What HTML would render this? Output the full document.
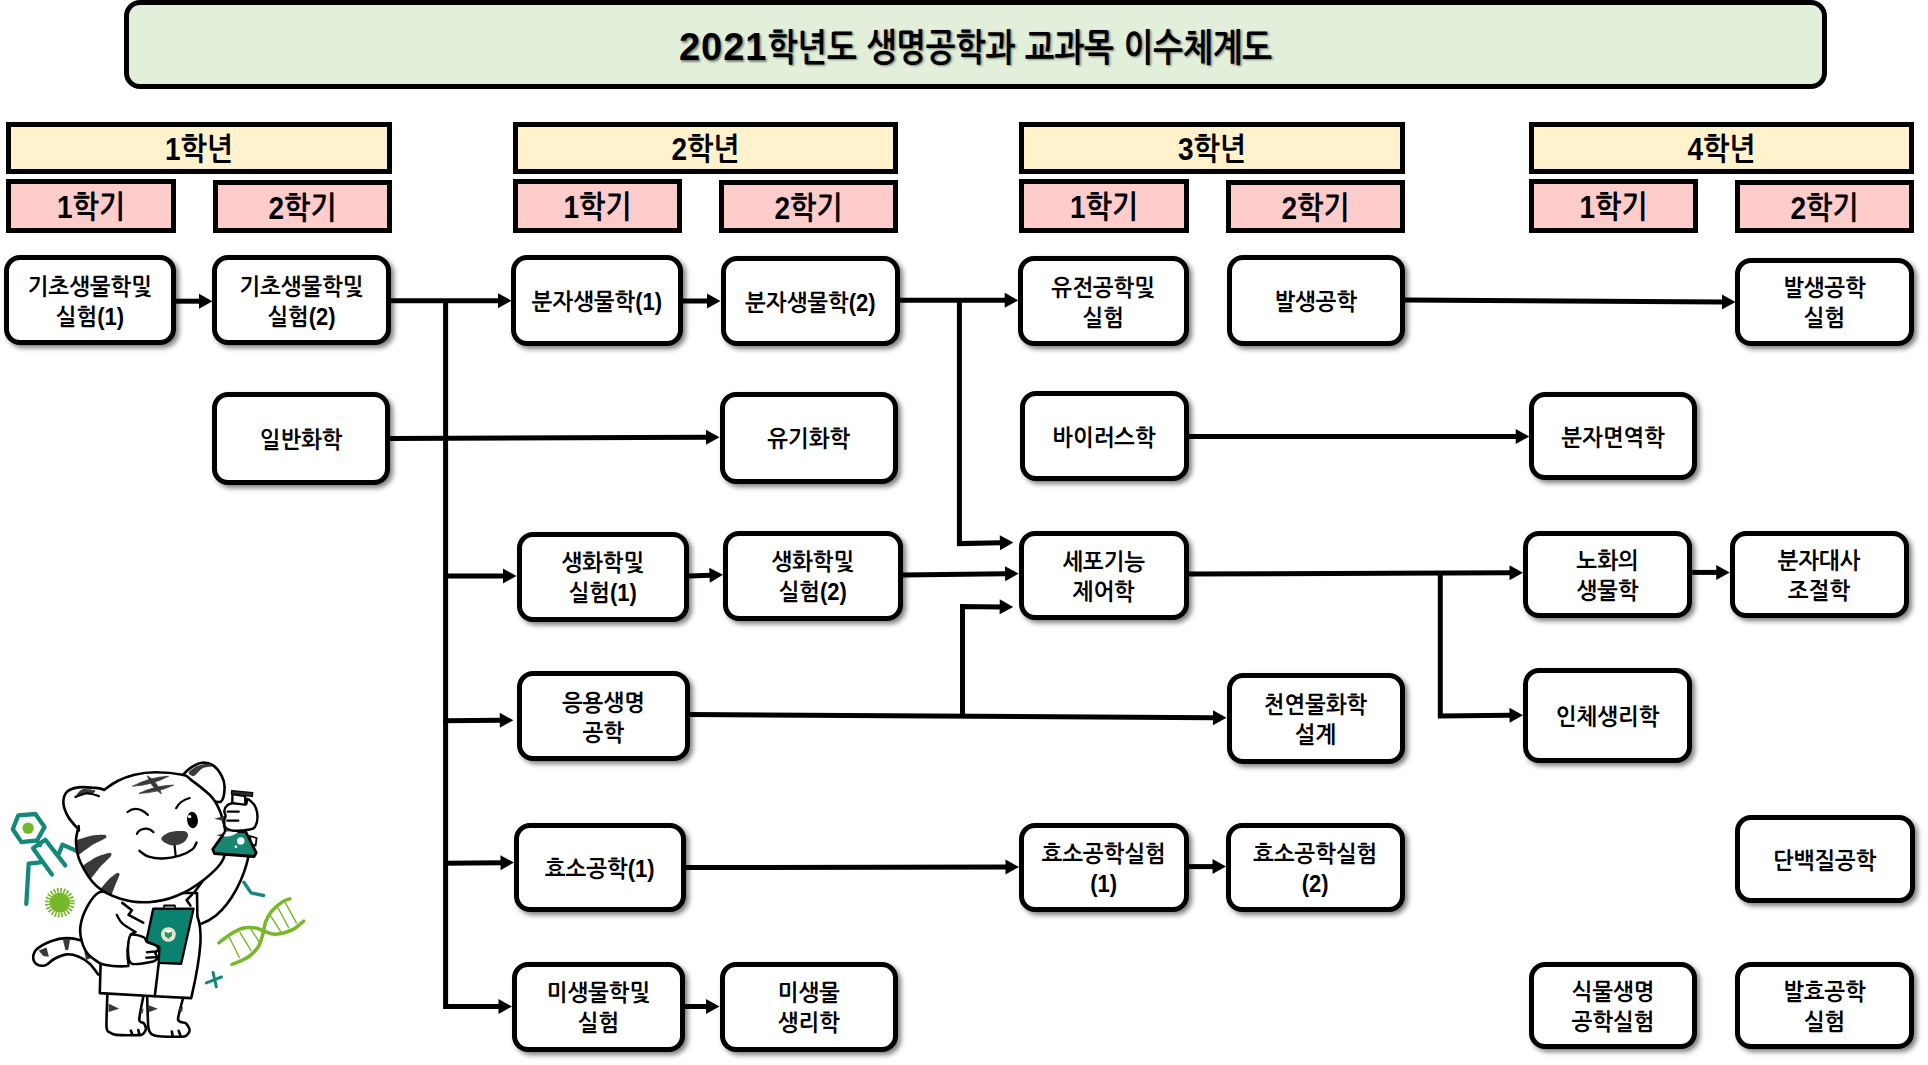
<!DOCTYPE html>
<html lang="ko">
<head>
<meta charset="utf-8">
<title>2021학년도 생명공학과 교과목 이수체계도</title>
<style>
html,body{margin:0;padding:0;background:#fff;}
body{width:1928px;height:1065px;position:relative;overflow:hidden;
 font-family:"Liberation Sans","NanumGothic",sans-serif;color:#000;}
.b{position:absolute;box-sizing:border-box;border:5px solid #000;display:flex;
 flex-direction:column;align-items:center;justify-content:center;text-align:center;}
.title{background:#E2EFDA;border-radius:16px;font-size:31.6px;font-weight:bold;
 text-shadow:1.5px 1.5px 2px rgba(0,0,0,.45);white-space:nowrap;}
.title .t{display:block;transform:translateY(3px);word-spacing:1px;}
.title .d{display:inline-block;font-size:38px;letter-spacing:1px;vertical-align:baseline;}
.title .h{display:inline-block;transform:scaleY(1.2);transform-origin:50% 70%;}
.y{background:#FFF2CC;font-size:28px;font-weight:bold;}
.s{background:#FFCCCC;font-size:28px;font-weight:bold;}
.y span,.s span{display:block;transform:translateY(1.5px) scaleY(1.13);}
.c{background:#fff;border-radius:16px;font-size:22px;font-weight:bold;line-height:30px;
 box-shadow:3px 3px 5px rgba(0,0,0,.5);padding-top:5px;}
.c span{display:block;transform:scaleY(1.06);}
.c.two{padding-top:5px;}
svg.ar{position:absolute;left:0;top:0;}
</style>
</head>
<body>

<div class="b title" style="left:124px;top:-0.5px;width:1703px;height:89.5px"><span class="t"><span class="d">2021</span><span class="h">학년도 생명공학과 교과목 이수체계도</span></span></div>
<div class="b y" style="left:6px;top:122px;width:386px;height:52px"><span>1학년</span></div>
<div class="b y" style="left:513px;top:122px;width:385px;height:52px"><span>2학년</span></div>
<div class="b y" style="left:1019px;top:122px;width:386px;height:52px"><span>3학년</span></div>
<div class="b y" style="left:1529px;top:122px;width:385px;height:52px"><span>4학년</span></div>
<div class="b s" style="left:6px;top:179px;width:170px;height:54px"><span>1학기</span></div>
<div class="b s" style="left:213px;top:180px;width:179px;height:53px"><span>2학기</span></div>
<div class="b s" style="left:513px;top:179px;width:169px;height:54px"><span>1학기</span></div>
<div class="b s" style="left:719px;top:180px;width:179px;height:53px"><span>2학기</span></div>
<div class="b s" style="left:1019px;top:179px;width:170px;height:54px"><span>1학기</span></div>
<div class="b s" style="left:1226px;top:180px;width:179px;height:53px"><span>2학기</span></div>
<div class="b s" style="left:1529px;top:179px;width:169px;height:54px"><span>1학기</span></div>
<div class="b s" style="left:1735px;top:180px;width:179px;height:53px"><span>2학기</span></div>
<svg class="ar" width="1928" height="1065" viewBox="0 0 1928 1065">
<g fill="none" stroke="#000" stroke-width="5" stroke-linejoin="miter">
<polyline points="175,301.2 200,301.2"/>
<polyline points="391,300.7 499,300.7"/>
<polyline points="445.6,300.7 445.6,576 504,576"/>
<polyline points="445.6,576 445.6,720.7 500.8,720.29"/>
<polyline points="445.6,720 445.6,863.2 501.5,862.71"/>
<polyline points="445.6,863 445.6,1006.5 499.5,1006.5"/>
<polyline points="390,438.6 707,437.25"/>
<polyline points="683,301 708,301"/>
<polyline points="900,300.3 1005.7,300.3"/>
<polyline points="959.4,300.3 959.4,543.6 1000.9,542.83"/>
<polyline points="689,576 710.51,575.24"/>
<polyline points="902.5,575 1006.1,573.75"/>
<polyline points="690,714.6 1214,717.73"/>
<polyline points="962.5,716 962.5,606.5 1000.7,606.88"/>
<polyline points="1188.5,436.5 1516.75,436.5"/>
<polyline points="1405,300 1723,301.92"/>
<polyline points="1188.5,574 1510.5,572.84"/>
<polyline points="1440.3,573.5 1440.3,716 1510.5,715.32"/>
<polyline points="1692.25,572.4 1717.25,572.4"/>
<polyline points="685.75,867.6 1006.5,867.02"/>
<polyline points="1188.5,866.6 1213.5,866.6"/>
<polyline points="685,1006.5 707,1006.5"/>
</g><g fill="#000" stroke="none">
<polygon points="212.5,301.2 199,308.7 199,293.7"/>
<polygon points="511.5,300.7 498,308.2 498,293.2"/>
<polygon points="516.5,576 503,583.5 503,568.5"/>
<polygon points="513.3,720.2 499.86,727.8 499.74,712.8"/>
<polygon points="514,862.6 500.57,870.22 500.43,855.22"/>
<polygon points="512,1006.5 498.5,1014 498.5,999"/>
<polygon points="719.5,437.2 706.03,444.76 705.97,429.76"/>
<polygon points="720.5,301 707,308.5 707,293.5"/>
<polygon points="1018.2,300.3 1004.7,307.8 1004.7,292.8"/>
<polygon points="1013.4,542.6 1000.04,550.35 999.76,535.35"/>
<polygon points="723,574.8 709.77,582.77 709.24,567.78"/>
<polygon points="1018.6,573.6 1005.19,581.26 1005.01,566.26"/>
<polygon points="1226.5,717.8 1212.96,725.22 1213.04,710.22"/>
<polygon points="1013.2,607 999.63,614.37 999.77,599.37"/>
<polygon points="1529.25,436.5 1515.75,444 1515.75,429"/>
<polygon points="1735.5,302 1721.95,309.42 1722.05,294.42"/>
<polygon points="1523,572.8 1509.53,580.35 1509.47,565.35"/>
<polygon points="1523,715.2 1509.57,722.83 1509.43,707.83"/>
<polygon points="1729.75,572.4 1716.25,579.9 1716.25,564.9"/>
<polygon points="1019,867 1005.51,874.52 1005.49,859.52"/>
<polygon points="1226,866.6 1212.5,874.1 1212.5,859.1"/>
<polygon points="719.5,1006.5 706,1014 706,999"/>
</g></svg>
<div class="b c two" style="left:4px;top:255px;width:171.8px;height:90.2px"><span>기초생물학및</span><span>실험(1)</span></div>
<div class="b c two" style="left:212px;top:255px;width:179px;height:90.2px"><span>기초생물학및</span><span>실험(2)</span></div>
<div class="b c" style="left:511px;top:255px;width:172px;height:90.8px"><span>분자생물학(1)</span></div>
<div class="b c" style="left:721px;top:256.2px;width:179px;height:89.8px"><span>분자생물학(2)</span></div>
<div class="b c two" style="left:1018px;top:256px;width:170.5px;height:90.1px"><span>유전공학및</span><span>실험</span></div>
<div class="b c" style="left:1226.5px;top:255px;width:178.5px;height:90.6px"><span>발생공학</span></div>
<div class="b c two" style="left:1735px;top:257.8px;width:179px;height:88.2px"><span>발생공학</span><span>실험</span></div>
<div class="b c" style="left:212px;top:392px;width:178.2px;height:92.9px"><span>일반화학</span></div>
<div class="b c" style="left:719.5px;top:391.75px;width:178.5px;height:91.85px"><span>유기화학</span></div>
<div class="b c" style="left:1019.5px;top:391px;width:169px;height:90.1px"><span>바이러스학</span></div>
<div class="b c" style="left:1529.25px;top:391.75px;width:168px;height:88.6px"><span>분자면역학</span></div>
<div class="b c two" style="left:516.5px;top:531.5px;width:172.5px;height:90.1px"><span>생화학및</span><span>실험(1)</span></div>
<div class="b c two" style="left:723px;top:530.5px;width:179.5px;height:90.6px"><span>생화학및</span><span>실험(2)</span></div>
<div class="b c two" style="left:1019px;top:530.5px;width:169.5px;height:89.85px"><span>세포기능</span><span>제어학</span></div>
<div class="b c two" style="left:1523px;top:530.5px;width:169.25px;height:87.35px"><span>노화의</span><span>생물학</span></div>
<div class="b c two" style="left:1729.75px;top:530.5px;width:178.75px;height:87.35px"><span>분자대사</span><span>조절학</span></div>
<div class="b c two" style="left:517px;top:671.25px;width:173px;height:90.1px"><span>응용생명</span><span>공학</span></div>
<div class="b c two" style="left:1226.5px;top:673.25px;width:178px;height:90.6px"><span>천연물화학</span><span>설계</span></div>
<div class="b c" style="left:1523px;top:668.25px;width:169.25px;height:94.85px"><span>인체생리학</span></div>
<div class="b c" style="left:514px;top:822.75px;width:171.75px;height:88.85px"><span>효소공학(1)</span></div>
<div class="b c two" style="left:1019px;top:822.75px;width:169.5px;height:88.85px"><span>효소공학실험</span><span>(1)</span></div>
<div class="b c two" style="left:1226px;top:822.75px;width:178.5px;height:88.85px"><span>효소공학실험</span><span>(2)</span></div>
<div class="b c" style="left:1734.75px;top:815.25px;width:180px;height:88.1px"><span>단백질공학</span></div>
<div class="b c two" style="left:512px;top:961.5px;width:173px;height:90.1px"><span>미생물학및</span><span>실험</span></div>
<div class="b c two" style="left:719.5px;top:961.5px;width:178.75px;height:90.1px"><span>미생물</span><span>생리학</span></div>
<div class="b c two" style="left:1529px;top:961.5px;width:168.25px;height:87.6px"><span>식물생명</span><span>공학실험</span></div>
<div class="b c two" style="left:1735.25px;top:961.5px;width:178.75px;height:87.6px"><span>발효공학</span><span>실험</span></div>
<svg class="ar" width="330" height="320" viewBox="0 745 330 320" style="top:745px">
<g fill="none" stroke="#14897a" stroke-width="4.3" stroke-linecap="round" stroke-linejoin="round">
<path d="M18.3,815.3 L35.4,814 L44.6,826.9 L37.2,840.3 L21.4,842.1 L12.8,829.3Z"/>
<path d="M33,848.2 L51.9,874.5 M45.2,839.7 L65.3,865.3 M33,848.2 L45.2,839.7 M36.8,840.8 L40,845"/>
<path d="M40.3,862.3 L28.7,863.7 L26.3,903.8"/>
<path d="M58.6,854.3 L62.5,844.6 L80,852.5"/>
</g>
<circle cx="28.1" cy="828.1" r="5.7" fill="#76b82a"/>
<circle cx="59.8" cy="902.6" r="10.2" fill="#76b82a"/>
<circle cx="59.8" cy="902.6" r="12.4" fill="none" stroke="#76b82a" stroke-width="4.8" stroke-dasharray="1.7 1.55"/>
<g stroke="#000" stroke-width="2.6" stroke-linejoin="round" stroke-linecap="round" fill="#fff">
<path d="M98.2,974.5 C96.8,972.7 92.9,966.7 89.7,963.7 C86.5,960.7 82.8,958.2 78.9,956.7 C75,955.2 70.6,954 66.5,954.4 C62.4,954.8 57.6,957.2 54.1,959 C50.6,960.8 48.5,964.3 45.6,965.2 C42.8,966.1 39.1,965.7 37,964.4 C34.9,963.1 33.2,960.1 33.2,957.5 C33.2,954.9 34,951.7 37,949 C40,946.3 46.1,943 51,941.2 C55.9,939.4 61.5,938.2 66.5,938.1 C71.5,938 77,939.1 81.2,940.4 C85.5,941.7 90.2,945.1 92,946"/>
</g>
<g fill="#3b3838">
<path d="M38.6,950.6 L46.6,947.4 L48.9,956.8 L43.4,956Z"/>
<path d="M62.8,939.2 L70.2,938.8 L68.2,950 L65.4,950Z"/>
<path d="M83.6,947.5 L88.2,951 L90.2,958.5 L86,960Z"/>
</g>
<g stroke="#000" stroke-width="2.6" stroke-linejoin="round" stroke-linecap="round" fill="#fff">
<path d="M107.5,990 C107.4,994.3 106.2,1022.2 106.5,1027.2 C106.8,1032.2 108.8,1031.7 109.9,1032.6 C111,1033.5 112.5,1034.6 116.1,1034.9 C119.7,1035.2 137.3,1035.5 140.8,1034.9 C144.3,1034.3 145.4,1030.9 145.8,1029.5 C146.2,1028.1 144.7,1024.5 143.9,1023.3 C143.1,1022.1 139.3,1023.1 139.3,1019.4 C139.3,1015.7 143.6,995.2 144.2,992"/>
<path d="M147,992 C147.2,996.1 147.8,1022.3 148.3,1027.2 C148.8,1032.1 150.4,1033.2 151.7,1034.2 C153,1035.2 155.6,1035.9 159.4,1036.2 C163.2,1036.5 180.7,1037.2 184.2,1036.5 C187.7,1035.8 189.4,1031.8 189.6,1030.3 C189.8,1028.8 187.2,1024.6 185.8,1023.3 C184.4,1022 178.1,1023.1 178,1019.4 C177.9,1015.7 184,995.2 184.8,992"/>
<path d="M130.8,1030.6 L132.3,1034.4 M138.3,1030 L139.3,1034.4 M171.8,1031.6 L172.6,1035.8 M178.6,1030.8 L180.4,1035.2" fill="none"/>
</g>
<g fill="#3b3838">
<path d="M108.6,1003.4 L119.2,1008.8 L108.6,1012Z"/>
<path d="M139.3,1011 L143.6,1008.4 L142.6,1013.6Z"/>
<path d="M148.6,1005.3 L157.9,1008.8 L148.8,1012.2Z"/>
<path d="M178,1009.6 L183,1006.8 L182.2,1012Z"/>
</g>
<g stroke="#000" stroke-width="2.6" stroke-linejoin="round" stroke-linecap="round" fill="#fff">
<path d="M224,852 L248.6,856 C244,878 232,902 216.3,915.2 C211,919.5 205,922.5 199.9,924.4 L185,905 Z"/>
<path d="M120,893 C116.5,892.9 104.6,889.9 99,892.4 C93.4,894.9 89.7,902.2 86.6,907.9 C83.5,913.6 81.2,920.8 80.4,926.5 C79.6,932.2 80.7,937.4 82,942 C83.3,946.6 85.1,950.8 88.2,954.4 C91.3,958 98.5,962.2 100.6,963.7 L99.8,993.1 L154.8,996.2 L191.2,998.1 C195,982 199.5,958 200.5,942 C200.8,934 200.4,924 197.4,916.4 L197,893 Z"/>
<path d="M158.7,963.7 L154.8,996.2 M100.6,963.7 C106,965.5 118,967.2 128.5,966" fill="none"/>
<path d="M122.3,902.9 L131.9,910.2 L128.5,914.9 L143.2,922.6" fill="none"/>
<path d="M192,894.7 L186.6,900.1 L190.4,905.6" fill="none"/>
</g>
<g stroke="#000" stroke-width="2.6" stroke-linejoin="round" stroke-linecap="round" fill="#fff">
<path d="M79,830 C77.2,827.8 70.9,821.5 68.3,817 C65.7,812.5 63.6,807.1 63.4,802.9 C63.2,798.7 64.4,794.5 66.9,791.9 C69.4,789.3 74,788.1 78.2,787.4 C82.4,786.7 88,787.3 92.3,787.7 C96.6,788.1 100.9,787.9 104.2,789.9 C107.5,791.9 110.7,798.3 112,800"/>
<path d="M180,778 C181.8,776.3 187.1,770.2 190.8,767.7 C194.5,765.2 198.3,763.1 202.1,762.7 C205.9,762.4 210.1,763.4 213.4,765.6 C216.7,767.8 219.9,772.5 221.8,776.1 C223.7,779.7 224.7,783.2 224.6,787.4 C224.5,791.6 223.5,799.4 221.1,801.5 C218.7,803.6 211.8,800.2 210,800"/>
</g>
<g fill="#3b3838">
<path d="M76,795.8 C76,795.2 79.9,789.9 82.4,789.2 C84.9,788.5 93.7,789.9 95,790.5 C96.3,791.1 94,793 92.3,793.4 C90.6,793.8 84.6,793.4 82.4,793.7 C80.2,794 76,796.4 76,795.8Z"/>
<path d="M188.7,772.5 C189.1,771.2 194,767.5 196.5,766.3 C199,765.1 205.6,763.7 207.7,763.7 C209.8,763.7 212.7,765.7 212,766.3 C211.3,766.9 204.5,767.1 202.1,768.4 C199.7,769.7 195.5,775.6 193.7,776.1 C191.9,776.6 188.3,773.8 188.7,772.5Z"/>
</g>
<path d="M75.4,797 C77.3,796.4 82.8,793.5 86.6,793.3 C90.3,793.1 94.5,794.4 97.9,795.8 C101.3,797.2 105.5,800.5 107,801.5" fill="none" stroke="#000" stroke-width="2.2" stroke-linecap="round"/>
<defs><clipPath id="hc"><path d="M78.2,828.2 C77.8,830.6 75.7,836.7 76,842.3 C76.3,847.9 76.9,854.7 80.3,862 C83.7,869.3 89.8,879.9 96.5,886 C103.2,892.1 111.7,896 120.4,898.7 C129.1,901.4 139.2,902.7 148.6,902.2 C158,901.7 167.4,899.7 176.8,895.8 C186.2,891.9 197.2,885 204.9,878.9 C212.6,872.8 219.8,866.7 223.2,859.2 C226.6,851.7 225.8,841.4 225.4,833.9 C225.1,826.4 223.3,820.3 221.1,814.2 C218.9,808.1 217.1,803.1 212,797.3 C206.9,791.5 195.7,783.4 190.8,779.6 C185.9,775.8 188.3,775.9 182.4,774.7 C176.5,773.5 163.6,772.2 155.6,772.2 C147.6,772.2 140.8,773.2 134.5,774.7 C128.2,776.2 122.6,778.5 117.6,781 C112.5,783.5 106.4,788.4 104.2,789.9 Z"/></clipPath></defs>
<path d="M78.2,828.2 C77.8,830.6 75.7,836.7 76,842.3 C76.3,847.9 76.9,854.7 80.3,862 C83.7,869.3 89.8,879.9 96.5,886 C103.2,892.1 111.7,896 120.4,898.7 C129.1,901.4 139.2,902.7 148.6,902.2 C158,901.7 167.4,899.7 176.8,895.8 C186.2,891.9 197.2,885 204.9,878.9 C212.6,872.8 219.8,866.7 223.2,859.2 C226.6,851.7 225.8,841.4 225.4,833.9 C225.1,826.4 223.3,820.3 221.1,814.2 C218.9,808.1 217.1,803.1 212,797.3 C206.9,791.5 195.7,783.4 190.8,779.6 C185.9,775.8 188.3,775.9 182.4,774.7 C176.5,773.5 163.6,772.2 155.6,772.2 C147.6,772.2 140.8,773.2 134.5,774.7 C128.2,776.2 122.6,778.5 117.6,781 C112.5,783.5 106.4,788.4 104.2,789.9 Z" fill="#fff" stroke="none"/>
<g fill="#3b3838" clip-path="url(#hc)">
<path d="M74,841.8 C75.6,839.8 89.2,836.3 92.3,835.6 C95.4,834.9 103.6,834.6 104.9,834.8 C106.2,835 107.1,837 105.8,838 C104.5,839 95.3,843.3 92.3,845.1 C89.3,846.9 77.8,856.3 76,856 C74.2,855.7 72.4,843.8 74,841.8Z"/>
<path d="M80.5,868.3 C81.3,866 93.6,858.7 96.5,857.1 C99.4,855.5 108.5,852.8 109.9,852.7 C111.4,852.6 111.9,854.5 111,855.9 C110.1,857.3 102.9,863.9 100.7,866.3 C98.5,868.7 90.8,879.8 88.8,880 C86.8,880.2 79.7,870.6 80.5,868.3Z"/>
<path d="M99,892 C99,890.1 107.3,880.8 109.2,878.9 C111.1,877 116.6,873.2 117.6,872.8 C118.6,872.4 119.7,873.5 119.5,874.7 C119.3,875.9 116.5,882.3 115.5,884.6 C114.5,886.9 111.2,897.3 109.6,898 C107.9,898.7 99,893.9 99,892Z"/>
</g>
<path d="M78.2,828.2 C77.8,830.6 75.7,836.7 76,842.3 C76.3,847.9 76.9,854.7 80.3,862 C83.7,869.3 89.8,879.9 96.5,886 C103.2,892.1 111.7,896 120.4,898.7 C129.1,901.4 139.2,902.7 148.6,902.2 C158,901.7 167.4,899.7 176.8,895.8 C186.2,891.9 197.2,885 204.9,878.9 C212.6,872.8 219.8,866.7 223.2,859.2 C226.6,851.7 225.8,841.4 225.4,833.9 C225.1,826.4 223.3,820.3 221.1,814.2 C218.9,808.1 217.1,803.1 212,797.3 C206.9,791.5 195.7,783.4 190.8,779.6 C185.9,775.8 188.3,775.9 182.4,774.7 C176.5,773.5 163.6,772.2 155.6,772.2 C147.6,772.2 140.8,773.2 134.5,774.7 C128.2,776.2 122.6,778.5 117.6,781 C112.5,783.5 106.4,788.4 104.2,789.9" fill="none" stroke="#000" stroke-width="2.6" stroke-linecap="round" stroke-linejoin="round"/>
<path d="M78.6,826 L78.9,830.5" stroke="#000" stroke-width="2.6" stroke-linecap="round"/>
<path d="M214.1,818.7 L226,815.4 L226,821.6 Z M216.2,835.3 L226,833 L226,837.5 Z" fill="#3b3838"/>
<g fill="#3b3838" stroke="#3b3838" stroke-width="0.8" stroke-linejoin="round">
<path d="M132.6,786.2 Q151.7,785.2 168.6,776.2 Q149.5,777.2 132.6,786.2Z"/>
<path d="M139,793.4 Q157.2,792.9 173.6,785.1 Q155.4,785.6 139,793.4Z"/>
<path d="M147.4,775.8 Q151.1,787.4 161.4,793.8 Q157.7,782.2 147.4,775.8Z"/>
</g>
<g stroke="#000" stroke-width="2.2" stroke-linecap="round" stroke-linejoin="round" fill="none">
<path d="M127.5,812 Q136.9,804.5 147.9,814.9"/>
<path d="M136.9,833.9 C139,828.6 148,826.2 153.5,832.2"/>
<path d="M176.1,808.2 Q180,800.6 189.7,798"/>
<path d="M174.6,845.4 L175.6,855.3"/>
<path d="M139.4,850.8 C140.9,851.8 144.7,855.4 148.6,856.7 C152.5,858 157.5,858.7 162.7,858.5 C167.9,858.3 174.7,857.2 179.6,855.7 C184.5,854.2 189.5,851.6 192.3,849.4 C195.1,847.2 195.8,843.7 196.5,842.6" stroke-width="2.4"/>
</g>
<ellipse cx="192.5" cy="820" rx="5.4" ry="8.2" transform="rotate(-6 192.5 820)" fill="#000"/>
<circle cx="189.6" cy="816.6" r="1.7" fill="#fff"/>
<path d="M161.3,838.1 C162,836.3 165.9,833.4 169.7,832.2 C173.4,831 180.8,830.6 183.8,831.1 C186.9,831.6 188,833.4 188,835.3 C188,837.2 186.2,840.6 183.8,842.3 C181.5,844 177,845.3 173.9,845.4 C170.8,845.5 167.6,844.2 165.5,843 C163.4,841.8 160.6,839.9 161.3,838.1Z" fill="#3e3a3a"/>
<g stroke="#000" stroke-width="2.4" stroke-linejoin="round" stroke-linecap="round">
<path d="M250,836 L256.6,838 L255.6,845.6 L251,844 Z" fill="#fff" stroke-width="1.8"/>
<path d="M225.4,831.6 L212.7,849.3 L214.4,853.5 L254.1,856.5 L256.2,852.7 L245.6,831.6Z" fill="#168673" stroke-width="2.8"/>
<path d="M223.6,836.2 Q231,838 238.8,831.6 L226.5,831.2 Z" fill="#fff" stroke="none"/>
<path d="M232.5,794 L232.2,805 L245.4,805.5 L245.2,796 Z" fill="#fff"/>
<path d="M233,803.2 C230.4,803.3 228.2,804.4 227,805.5 C225.8,806.6 224.5,809.5 224.3,811 C224.1,812.5 225.6,814.6 225.6,816 C225.6,817.4 224.2,819.4 224.2,821 C224.2,822.6 224.1,825.9 225.4,827.3 C226.7,828.7 230.4,830.4 233.8,830.7 C237.2,831 246.9,830 249.9,829.5 C252.9,829 253.8,828.7 254.9,827 C256,825.3 257.5,820.2 257.5,817.2 C257.5,814.2 256,807.9 254.6,805.4 C253.2,802.9 248.8,799.1 247.5,799 C246.2,798.9 247.6,804 245.6,804.6 C243.6,805.2 235.6,803.1 233,803.2Z" fill="#fff"/>
<path d="M227.6,811.7 L238.8,811.7 M227.2,820.6 L238.4,820.6" fill="none" stroke-width="2.2"/>
</g>
<path d="M231.7,790.6 L252.8,792.7 L252.4,796.5 L231.3,794Z" fill="#2b2b2b" stroke="#000" stroke-width="1.2" stroke-linejoin="round"/>
<circle cx="240.8" cy="840.9" r="3.7" fill="#fff"/><circle cx="235.9" cy="846.8" r="1.3" fill="#fff"/>
<g stroke="#000" stroke-width="2.4" stroke-linejoin="round" stroke-linecap="round">
<path d="M116.8,914.9 C117.7,916.3 119.2,920.6 122.3,923.4 C125.4,926.2 133.2,930.5 135.4,931.9" fill="none"/>
<path d="M135.4,931.9 L130.8,934.2 C127.5,944 126.5,955 128.5,964.4" fill="none"/>
<path d="M153.2,908.7 L193.5,908.7 L181.1,963.7 L158.7,962.9 L159.4,946.9 L146.3,941.2Z" fill="#0b8270"/>
<path d="M164.1,905.4 L174.9,905.4 L175.4,908.7 L163.6,908.7 Z" fill="#8a8a8a" stroke-width="1.6"/>
<path d="M130.8,935 C132.9,933.3 141.8,936.4 143.9,937.3 C146,938.2 145.1,940.9 146.8,942 C148.5,943.1 154.8,944.8 156.3,945.8 C157.8,946.8 158.3,948.8 158.2,949.7 C158.1,950.6 155.3,951.8 155.2,952.8 C155.1,953.8 157.6,956.3 157.3,957.5 C157,958.7 156.6,960.7 153.2,961.5 C149.8,962.3 135,965.2 131.6,963.7 C128.2,962.2 128.1,953.8 128,950 C127.9,946.2 128.7,936.7 130.8,935Z" fill="#fff"/>
<path d="M147,952.2 L156,951.4 M146.3,957.7 L156,957.1" fill="none"/>
</g>
<circle cx="168.4" cy="934.5" r="7.3" fill="#f3efd6"/><circle cx="168.4" cy="934.5" r="5.4" fill="#fff" stroke="#c9c27a" stroke-width="0.8"/>
<path d="M164.6,931.6 L168.4,933 L172.2,931.6 L172,936 L168.4,939 L164.8,936 Z" fill="#2f9a57"/>
<g fill="none" stroke="#76b82a" stroke-linecap="round">
<path d="M229.4,937.5 L239.3,957.3 M239.9,932.3 L251.1,950.7 M251.1,929.7 L259,941.5 M270.2,915.2 L280.7,931.6 M278.1,908 L288.6,927.7 M285.3,902.7 L296.5,923.1" stroke-width="1.4"/>
<path d="M218.9,942.8 C220.7,941.5 225.5,937.3 229.4,934.9 C233.3,932.5 238.2,929.4 242.6,928.3 C247,927.2 252.2,927.6 255.7,928.1 C259.2,928.6 260.3,930 263.6,931 C266.9,932 270.6,934.5 275.4,934.3 C280.2,934.1 287.8,931.9 292.5,929.7 C297.2,927.5 301.8,922.5 303.7,921.1" stroke-width="3.5"/>
<path d="M232.1,964.5 C234.7,963.3 243.4,960.2 247.8,957.3 C252.2,954.3 255.8,950.8 258.3,946.8 C260.8,942.8 261.8,937.8 263,933.6 C264.2,929.4 264.2,925.5 265.6,921.8 C267,918.1 268.8,914.6 271.5,911.3 C274.2,908 278.9,904.2 282,902.1 C285.1,900 288.6,899.3 289.9,898.8" stroke-width="3.5"/>
</g>
<g fill="none" stroke="#14897a" stroke-linecap="round" stroke-linejoin="round">
<path d="M243.9,882.3 L251.1,892.9 L263.6,895.5" stroke-width="3.4"/>
<path d="M206.4,982.9 L221.5,977 M213,972.4 L216.3,986.8" stroke-width="3"/>
</g>
</svg>
</body>
</html>
